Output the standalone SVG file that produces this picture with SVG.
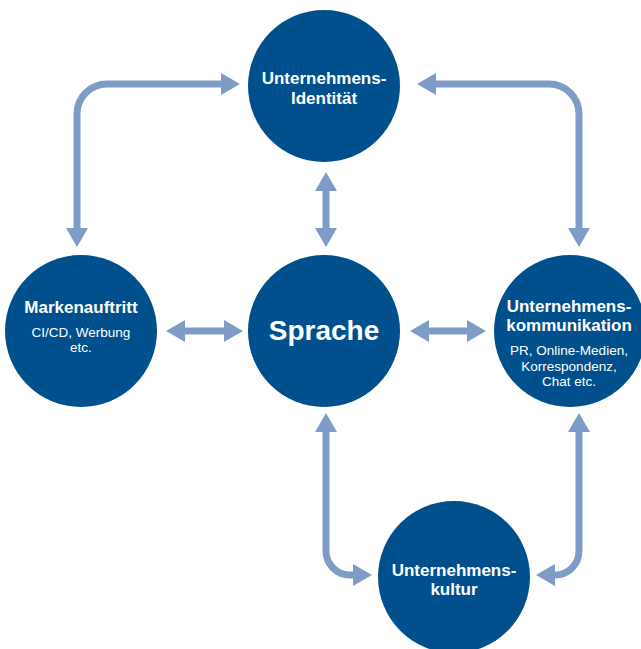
<svg xmlns="http://www.w3.org/2000/svg" width="641" height="649" viewBox="0 0 641 649">
  <defs>
    <marker id="head" viewBox="0 0 19 22" refX="0" refY="11" markerWidth="19" markerHeight="22" markerUnits="userSpaceOnUse" orient="auto-start-reverse">
      <path d="M0,0 L19,11 L0,22 z" fill="#7f9cc9"/>
    </marker>
    <style>
      .node { fill: #00508e; }
      .link { fill: none; stroke: #7f9cc9; stroke-width: 7; marker-start: url(#head); marker-end: url(#head); }
      .title { font-family: "Liberation Sans", Arial, sans-serif; font-weight: bold; font-size: 17px; fill: #ffffff; text-anchor: middle; }
      .big { font-family: "Liberation Sans", Arial, sans-serif; font-weight: bold; font-size: 28px; fill: #ffffff; text-anchor: middle; }
      .sub { font-family: "Liberation Sans", Arial, sans-serif; font-size: 13.5px; fill: #ffffff; text-anchor: middle; }
    </style>
  </defs>
  <rect width="641" height="649" fill="#ffffff"/>

  <g id="connectors">
    <path class="link" d="M77,228 V114 A30,30 0 0 1 107,84 H221"/>
    <path class="link" d="M436,84 H549 A30,30 0 0 1 579,114 V228"/>
    <path class="link" d="M326,191 V228"/>
    <path class="link" d="M185,331 H224"/>
    <path class="link" d="M429,331 H467"/>
    <path class="link" d="M326,432 V551 A24,24 0 0 0 350,575 H353"/>
    <path class="link" d="M579,432 V551 A24,24 0 0 1 555,575"/>
  </g>

  <g id="identitaet">
    <circle class="node" cx="324" cy="86" r="76"/>
    <text class="title" x="324" y="84">Unternehmens-</text>
    <text class="title" x="324" y="104">Identität</text>
  </g>

  <g id="sprache">
    <circle class="node" cx="324" cy="331" r="76"/>
    <text class="big" x="324" y="340">Sprache</text>
  </g>

  <g id="markenauftritt">
    <circle class="node" cx="81" cy="331" r="76"/>
    <text class="title" x="81" y="313">Markenauftritt</text>
    <text class="sub" x="81" y="337">CI/CD, Werbung</text>
    <text class="sub" x="81" y="352">etc.</text>
  </g>

  <g id="kommunikation">
    <circle class="node" cx="570" cy="331" r="76"/>
    <text class="title" x="569" y="312">Unternehmens-</text>
    <text class="title" x="569" y="331">kommunikation</text>
    <text class="sub" x="569" y="355">PR, Online-Medien,</text>
    <text class="sub" x="569" y="371">Korrespondenz,</text>
    <text class="sub" x="569" y="386">Chat etc.</text>
  </g>

  <g id="kultur">
    <circle class="node" cx="454" cy="577" r="76"/>
    <text class="title" x="454" y="576">Unternehmens-</text>
    <text class="title" x="454" y="595">kultur</text>
  </g>
</svg>
